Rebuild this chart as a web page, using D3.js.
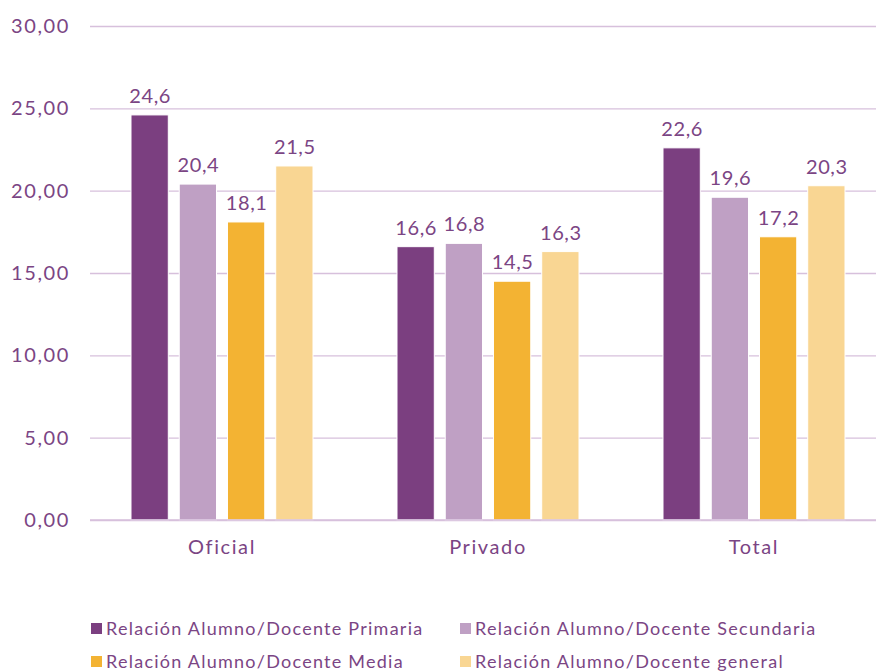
<!DOCTYPE html>
<html><head><meta charset="utf-8">
<script src="https://cdn.jsdelivr.net/npm/d3@7"></script>
<style>body{margin:0;background:#fff;}svg{display:block;font-family:Lato,"Open Sans",sans-serif;}</style>
</head><body><svg id="c" width="876" height="672"></svg>
<script>
const categories = ["Oficial","Privado","Total"];
const seriesNames = ["Relación Alumno/Docente Primaria","Relación Alumno/Docente Secundaria","Relación Alumno/Docente Media","Relación Alumno/Docente general"];
const primaria = [24.6,16.6,22.6];
const secundaria = [20.4,16.8,19.6];
const media = [18.1,14.5,17.2];
const general = [21.5,16.3,20.3];
const yTicks = [0,5,10,15,20,25,30];
const colors = ["#7b3f80","#bfa0c4","#f3b333","#f9d693"];

const series = [primaria,secundaria,media,general];
const svg = d3.select("#c");
const fmt = v => v.toFixed(1).replace(".",",");
const fmtT = v => v.toFixed(2).replace(".",",");
const txtCol = "#7b4584";

const y = d3.scaleLinear().domain([0,30]).range([520,26]);
const x0 = d3.scaleBand().domain(categories).range([89,887]).paddingInner(0).paddingOuter(0);
const x1 = d3.scaleBand().domain(d3.range(4)).range([42,224]).paddingInner(0.227).paddingOuter(0);

// grid
const grid = svg.append("g")
  .call(d3.axisLeft(y).tickValues(yTicks).tickSize(-(876-90)).tickFormat(fmtT))
  .attr("transform","translate(90,0)");
grid.select(".domain").remove();
grid.selectAll(".tick line").attr("stroke","#d7c0dc").attr("stroke-width",1.3);
grid.selectAll(".tick text").attr("x",-20).attr("fill",txtCol).attr("font-size",20)
  .attr("letter-spacing","1.6px").attr("font-family","Lato,sans-serif");

// bars
const groups = svg.append("g").selectAll("g").data(categories).join("g")
  .attr("transform",d=>`translate(${x0(d)},0)`);
series.forEach((s,si)=>{
  groups.append("rect")
    .attr("x",x1(si)).attr("width",x1.bandwidth())
    .attr("y",(d,i)=>y(s[i])).attr("height",(d,i)=>y(0)-y(s[i]))
    .attr("fill",colors[si]).attr("stroke","#fff").attr("stroke-width",1);
  groups.append("text")
    .attr("x",x1(si)+x1.bandwidth()/2+0.5).attr("y",(d,i)=>y(s[i])-12)
    .attr("text-anchor","middle").attr("fill",txtCol).attr("font-size",20)
    .attr("letter-spacing","0.6px")
    .text((d,i)=>fmt(s[i]));
});

// baseline
svg.append("line").attr("x1",90).attr("x2",876).attr("y1",y(0)).attr("y2",y(0))
  .attr("stroke","#d7c0dc").attr("stroke-width",1.5);

// category axis
const xa = svg.append("g").attr("transform",`translate(0,${y(0)})`)
  .call(d3.axisBottom(x0).tickSize(0).tickPadding(20));
xa.select(".domain").remove();
xa.selectAll("text").attr("fill",txtCol).attr("font-size",20).attr("letter-spacing","1.6px")
  .attr("font-family","Lato,sans-serif");

// legend
const legPos = [[91,629],[460,629],[91,662],[460,662]];
const leg = svg.append("g").selectAll("g").data(seriesNames).join("g")
  .attr("transform",(d,i)=>`translate(${legPos[i][0]},${legPos[i][1]})`);
leg.append("rect").attr("x",0).attr("y",-6).attr("width",11).attr("height",11).attr("fill",(d,i)=>colors[i]);
leg.append("text").attr("x",15).attr("y",0).attr("dy","0.35em").attr("fill",txtCol).attr("font-size",18)
  .attr("letter-spacing","1.25px").text(d=>d);
</script></body></html>
